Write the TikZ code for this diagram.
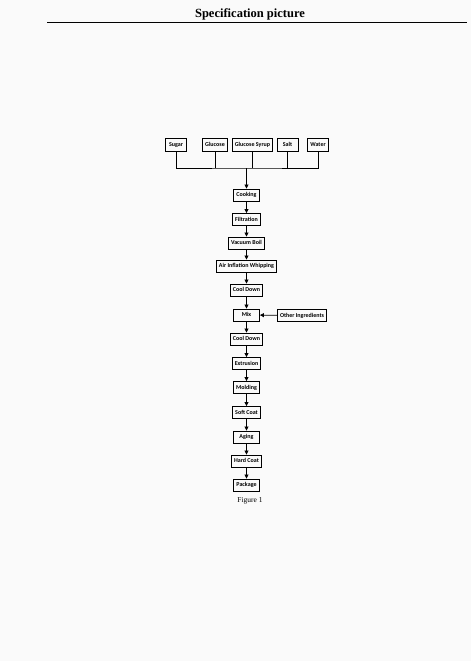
\documentclass[tikz,border=0pt]{standalone}
\usepackage{fontspec}
\setmainfont{Liberation Serif}
\newfontfamily\boxfont{Carlito}
\usetikzlibrary{arrows.meta}
\begin{document}
\begin{tikzpicture}[x=1pt,y=-1pt,
  box/.style={draw, line width=0.9pt, font=\boxfont\bfseries\fontsize{6}{7}\selectfont, text height=4.3pt, text depth=1.3pt, minimum height=12pt, inner xsep=2.5pt, inner ysep=0pt, minimum width=26pt},
  topbox/.style={box, minimum height=13.5pt, minimum width=21pt},
  arr/.style={line width=0.8pt, -{Triangle[length=4pt,width=4pt]}},
  ln/.style={line width=0.8pt}]
\fill[black!2] (0,0) rectangle (471,661);
\useasboundingbox (0,0) rectangle (471,661);
\node[font=\bfseries\fontsize{12.5}{14}\selectfont] (title) at (250,14) {Specification picture};
\coordinate (rl) at (47,22);
\coordinate (rr) at (467,22);
\draw[line width=0.8pt] (rl) -- (rr);

\node[topbox] (sugar) at (176,145) {Sugar};
\node[topbox] (glucose) at (215,145) {Glucose};
\node[topbox] (syrup) at (252.5,145) {Glucose Syrup};
\node[topbox] (salt) at (287.5,145) {Salt};
\node[topbox] (water) at (318,145) {Water};
\coordinate (bus) at (246.5,168);

\node[box] (cooking) at (246.5,195) {Cooking};
\node[box] (filtration) at (246.5,219.5) {Filtration};
\node[box] (vacuum) at (246.5,243) {Vacuum Boil};
\node[box] (air) at (246.5,266) {Air Inflation Whipping};
\node[box] (cool1) at (246.5,290) {Cool Down};
\node[box] (mix) at (246.5,315) {Mix};
\node[box] (other) at (302,315.5) {Other Ingredients};
\node[box] (cool2) at (246.5,339) {Cool Down};
\node[box] (extrusion) at (246.5,363.5) {Extrusion};
\node[box] (molding) at (246.5,387.5) {Molding};
\node[box] (softcoat) at (246.5,412.5) {Soft Coat};
\node[box] (aging) at (246.5,437) {Aging};
\node[box] (hardcoat) at (246.5,461) {Hard Coat};
\node[box] (package) at (246.5,485) {Package};
\node[font=\fontsize{7.5}{9}\selectfont] (fig) at (250,501) {Figure 1};

\draw[ln] (sugar.south) |- (bus) -| (water.south);
\draw[ln] (glucose.south) -- (glucose.south |- bus);
\draw[ln] (syrup.south) -- (syrup.south |- bus);
\draw[ln] (salt.south) -- (salt.south |- bus);
\draw[arr] (bus) -- (cooking.north);
\draw[arr] (cooking) -- (filtration);
\draw[arr] (filtration) -- (vacuum);
\draw[arr] (vacuum) -- (air);
\draw[arr] (air) -- (cool1);
\draw[arr] (cool1) -- (mix);
\draw[arr] (other) -- (mix);
\draw[arr] (mix) -- (cool2);
\draw[arr] (cool2) -- (extrusion);
\draw[arr] (extrusion) -- (molding);
\draw[arr] (molding) -- (softcoat);
\draw[arr] (softcoat) -- (aging);
\draw[arr] (aging) -- (hardcoat);
\draw[arr] (hardcoat) -- (package);
\end{tikzpicture}
\end{document}
